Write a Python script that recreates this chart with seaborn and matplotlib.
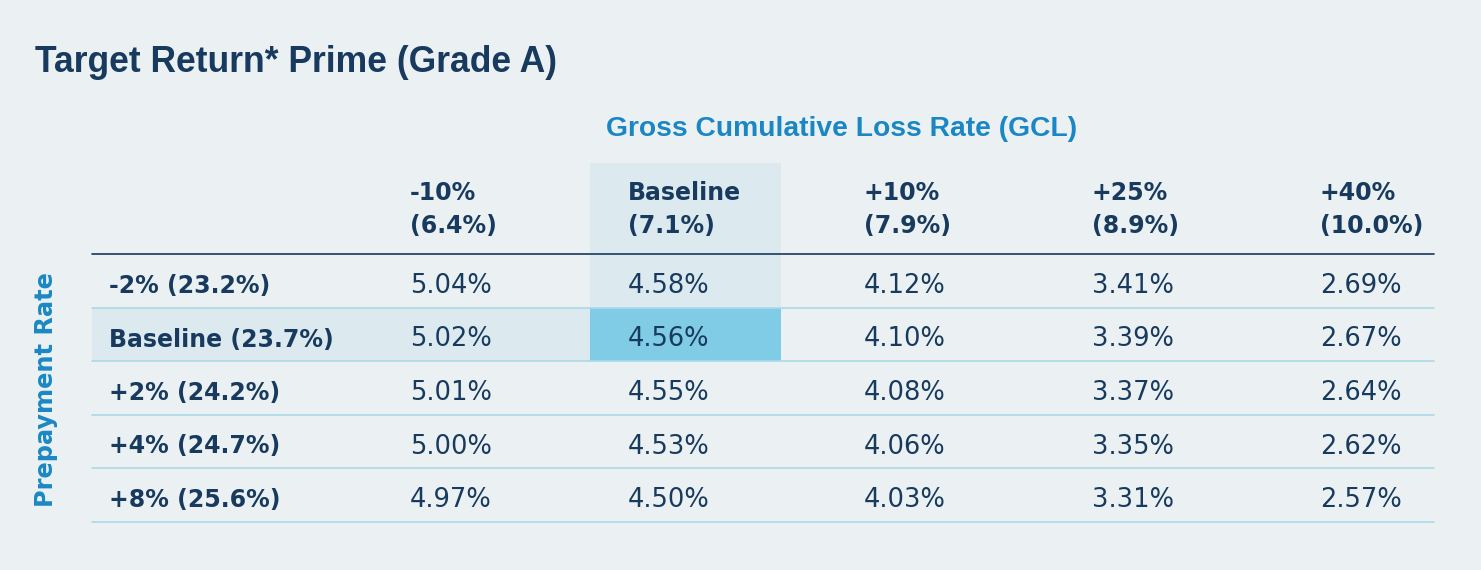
import numpy as np
import pandas as pd
import seaborn as sns
import matplotlib.pyplot as plt
from matplotlib.colors import ListedColormap

# table content
gcl_scenarios = ["-10%", "Baseline", "+10%", "+25%", "+40%"]
gcl_rates = ["(6.4%)", "(7.1%)", "(7.9%)", "(8.9%)", "(10.0%)"]
prepay_scenarios = ["-2%", "Baseline", "+2%", "+4%", "+8%"]
prepay_rates = ["(23.2%)", "(23.7%)", "(24.2%)", "(24.7%)", "(25.6%)"]
target_return = [
    [5.04, 4.58, 4.12, 3.41, 2.69],
    [5.02, 4.56, 4.10, 3.39, 2.67],
    [5.01, 4.55, 4.08, 3.37, 2.64],
    [5.00, 4.53, 4.06, 3.35, 2.62],
    [4.97, 4.50, 4.03, 3.31, 2.57],
]

# layout (pixels on a 1481x570 canvas)
W, H = 1481, 570
COL_EDGES = [92, 372, 590, 781, 1054, 1282, 1434]
TEXT_PAD = [17, 38, 38, 83, 38, 38]
ROW_EDGES = [163, 254, 308, 361, 415, 468, 522]

BG = "#ebf1f2"
LIGHT = "#dceaf0"
STRONG = "#80cbe6"
NAVY = "#173a5e"
BLUE = "#1a87c4"
RULE = "#a9d9e9"

sns.set_theme(style="white")
plt.rcParams["font.family"] = ["DejaVu Sans"]


def piecewise(src, dst):
    src = np.asarray(src, float)
    dst = np.asarray(dst, float)

    def f(v):
        v = np.asarray(v, float)
        out = np.interp(v, src, dst)
        lo_slope = (dst[1] - dst[0]) / (src[1] - src[0])
        hi_slope = (dst[-1] - dst[-2]) / (src[-1] - src[-2])
        out = np.where(v < src[0], dst[0] + (v - src[0]) * lo_slope, out)
        out = np.where(v > src[-1], dst[-1] + (v - src[-1]) * hi_slope, out)
        return out
    return f


df = pd.DataFrame(target_return, index=prepay_scenarios, columns=gcl_scenarios)
n_rows, n_cols = df.shape[0] + 1, df.shape[1] + 1

# highlight levels: baseline column down to baseline row, baseline row across to baseline column
bc = gcl_scenarios.index("Baseline") + 1
br = prepay_scenarios.index("Baseline") + 1
level = np.zeros((n_rows, n_cols))
level[:br + 1, bc] = 1
level[br, :bc + 1] = 1
level[br, bc] = 2

fig = plt.figure(figsize=(W / 100, H / 100), dpi=100, facecolor=BG)
ax = fig.add_axes([COL_EDGES[0] / W, 1 - ROW_EDGES[-1] / H,
                   (COL_EDGES[-1] - COL_EDGES[0]) / W,
                   (ROW_EDGES[-1] - ROW_EDGES[0]) / H])
ax.set_facecolor(BG)

sns.heatmap(level, ax=ax, cmap=ListedColormap([BG, LIGHT, STRONG]),
            vmin=-0.5, vmax=2.5, cbar=False, linewidths=0,
            xticklabels=False, yticklabels=False)

# uneven column widths / row heights
idx_c = np.arange(n_cols + 1)
idx_r = np.arange(n_rows + 1)
ax.set_xscale("function", functions=(piecewise(idx_c, COL_EDGES), piecewise(COL_EDGES, idx_c)))
ax.set_yscale("function", functions=(piecewise(idx_r, ROW_EDGES), piecewise(ROW_EDGES, idx_r)))
ax.set_xlim(0, n_cols)
ax.set_ylim(n_rows, 0)
ax.set_xticks([])
ax.set_yticks([])
for s in ax.spines.values():
    s.set_visible(False)

# rules
ax.axhline(1, color=NAVY, lw=1.2, clip_on=False)
for i in range(2, n_rows + 1):
    ax.axhline(i, color=RULE, lw=1.2, clip_on=False)

# header
for j, (sc, rt) in enumerate(zip(gcl_scenarios, gcl_rates), start=1):
    for txt, dy in [(sc, 8.5), (rt, -24.5)]:
        ax.annotate(txt, xy=(j, 0.5), xytext=(TEXT_PAD[j], dy), textcoords="offset pixels",
                    ha="left", va="baseline", fontsize=17, fontweight="bold", color=NAVY)

# body
for i, label in enumerate(df.index, start=1):
    ax.annotate(f"{label} {prepay_rates[i - 1]}", xy=(0, i + 0.5), xytext=(TEXT_PAD[0], -12),
                textcoords="offset pixels", ha="left", va="baseline",
                fontsize=17, fontweight="bold", color=NAVY)
    for j, v in enumerate(df.loc[label], start=1):
        ax.annotate(f"{v:.2f}%", xy=(j, i + 0.5), xytext=(TEXT_PAD[j], -12),
                    textcoords="offset pixels", ha="left", va="baseline",
                    fontsize=18.5, color=NAVY)

fig.text(35 / W, 1 - 72 / H, "Target Return* Prime (Grade A)", ha="left", va="baseline",
         fontsize=25.6, fontweight="bold", color=NAVY, family="Liberation Sans")
fig.text(842 / W, 1 - 136 / H, "Gross Cumulative Loss Rate (GCL)", ha="center", va="baseline",
         fontsize=20.3, fontweight="bold", color=BLUE, family="Liberation Sans")
fig.text(53 / W, 1 - 390 / H, "Prepayment Rate", rotation=90, rotation_mode="anchor",
         ha="center", va="baseline", fontsize=17.3, fontweight="bold", color=BLUE)

fig.savefig("out.png", dpi=100, facecolor=BG)
